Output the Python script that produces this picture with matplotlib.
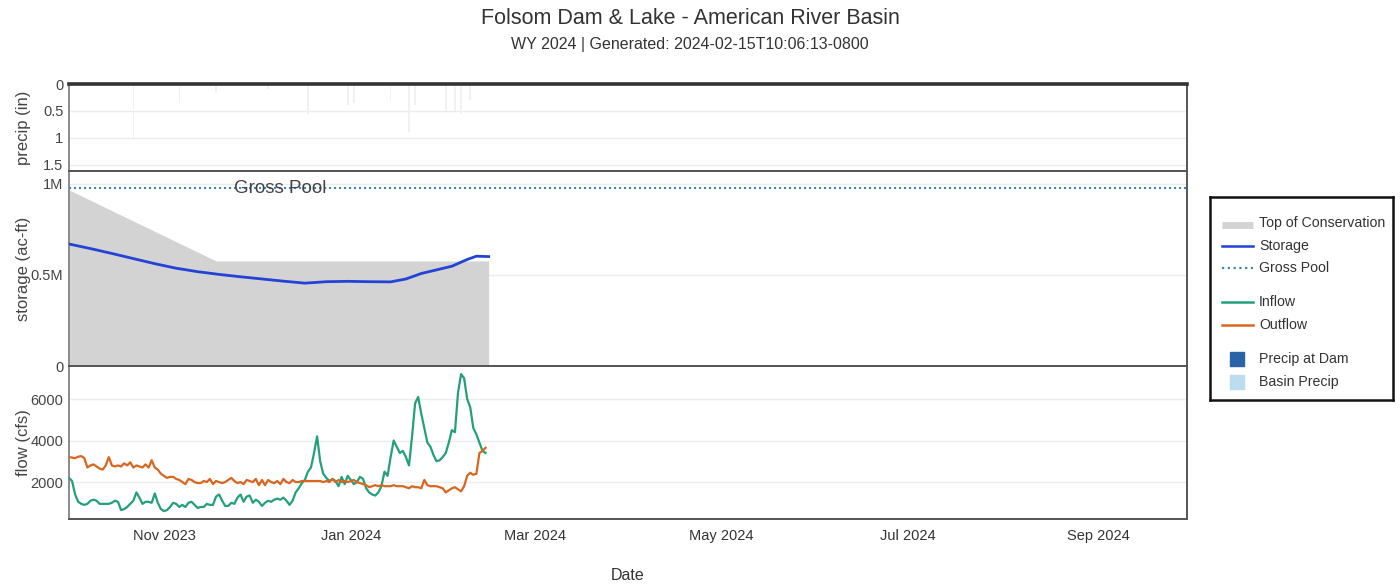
import matplotlib
matplotlib.use("Agg")
import matplotlib.pyplot as plt
import matplotlib.dates as mdates
from matplotlib.lines import Line2D
import numpy as np
import pandas as pd

plt.rcParams['font.family'] = ['Liberation Sans', 'DejaVu Sans']

# ---------------- data ----------------
start_date = "2023-10-01"

inflow_cfs = [
    2200, 2050, 1400, 1050, 950, 900, 950, 1100, 1150, 1100,
    950, 950, 950, 950, 1000, 1100, 1050, 650, 700, 800,
    950, 1100, 1500, 1250, 950, 1050, 1050, 1000, 1450, 1000,
    700, 600, 650, 800, 1000, 950, 800, 900, 800, 1000,
    1050, 900, 750, 800, 800, 950, 900, 900, 1300, 1400,
    1100, 850, 850, 1000, 950, 1250, 1400, 1050, 1300, 1350,
    1000, 1150, 1050, 850, 1000, 1100, 1050, 1150, 1200, 1150,
    1250, 1100, 900, 1100, 1500, 1700, 1950, 2100, 2500, 2700,
    3400, 4200, 3000, 2400, 2200, 2050, 2150, 2050, 1800, 2250,
    1900, 2300, 2100, 1900, 2000, 2250, 2150, 1700, 1500, 1400,
    1350, 1500, 1800, 2500, 2300, 3200, 4000, 3700, 3400, 3500,
    3200, 2800, 4200, 5800, 6100, 5300, 4600, 3900, 3700, 3300,
    3000, 3050, 3200, 3400, 3900, 4500, 4400, 6300, 7200, 7000,
    6000, 5600, 4600, 4300, 3900, 3500, 3400,
]

outflow_cfs = [
    3200, 3180, 3150, 3220, 3250, 3150, 2700, 2800, 2850, 2750,
    2650, 2600, 2800, 3200, 2800, 2750, 2800, 2750, 2900, 2800,
    2950, 2700, 2800, 2750, 2700, 2850, 2700, 3050, 2700, 2600,
    2400, 2300, 2200, 2250, 2250, 2150, 2100, 2000, 1900, 2150,
    2100, 2000, 1950, 1950, 2050, 2000, 2150, 1900, 2050, 2000,
    1950, 2000, 2100, 2200, 2050, 1950, 2000, 1900, 2100, 2050,
    2000, 2150, 1850, 2100, 1850, 2100, 2000, 1950, 2050, 1900,
    2150, 2000, 1950, 2100, 2000, 2000, 2050, 2050, 2050, 2050,
    2050, 2050, 2050, 2000, 2050, 2000, 2150, 2000, 2100, 2000,
    2050, 2000, 2050, 2100, 2000, 1950, 1900, 1850, 1750, 1800,
    1850, 1800, 1850, 1800, 1800, 1800, 1850, 1800, 1800, 1800,
    1750, 1700, 1800, 1750, 1750, 1700, 2100, 1850, 1800, 1800,
    1800, 1750, 1700, 1500, 1600, 1700, 1750, 1650, 1550, 1800,
    2300, 2450, 2350, 2400, 3400, 3500, 3650,
]

storage_dates = [
    "2023-10-01", "2023-10-08", "2023-10-15", "2023-10-22", "2023-10-29",
    "2023-11-05", "2023-11-12", "2023-11-19", "2023-11-26", "2023-12-03",
    "2023-12-10", "2023-12-17", "2023-12-24", "2023-12-31", "2024-01-07",
    "2024-01-14", "2024-01-19", "2024-01-24", "2024-01-29", "2024-02-03",
    "2024-02-08", "2024-02-11", "2024-02-15",
]
storage_af = [
    670000, 645000, 618000, 590000, 562000,
    537000, 518000, 503000, 490000, 478000,
    466000, 455000, 463000, 465000, 463000,
    462000, 478000, 508000, 528000, 548000,
    585000, 603000, 601000,
]

toc_dates = ["2023-10-01", "2023-11-18", "2024-02-15"]
toc_af = [967000, 577000, 577000]

gross_pool_af = 975000

precip_dates = [
    "2023-10-22", "2023-11-06", "2023-11-18", "2023-12-05", "2023-12-18",
    "2023-12-31", "2024-01-02", "2024-01-14", "2024-01-20", "2024-01-22",
    "2024-02-01", "2024-02-04", "2024-02-06", "2024-02-09",
]
basin_precip_in = [1.0, 0.35, 0.15, 0.1, 0.55, 0.4, 0.35, 0.3, 0.9, 0.4,
                   0.5, 0.5, 0.55, 0.3]

title = "Folsom Dam & Lake - American River Basin"
subtitle = "WY 2024 | Generated: 2024-02-15T10:06:13-0800"

# ---------------- styles ----------------
C_STORAGE = "#2342d6"
C_INFLOW = "#23a07a"
C_OUTFLOW = "#d9661e"
C_GROSS = "#3d86b8"
C_TOC = "#d3d3d3"
C_DAM = "#2a64a6"
C_BASIN = "#bcdcef"
C_TEXT = "#444444"
C_GRID = "#ececec"
C_SPINE = "#555555"

flow_dates = pd.date_range(start_date, periods=len(inflow_cfs), freq="D")
sto_dates = pd.to_datetime(storage_dates)
toc_d = pd.to_datetime(toc_dates)
pr_dates = pd.to_datetime(precip_dates)

W, H = 1400, 587
fig = plt.figure(figsize=(W / 100, H / 100), dpi=100)


def ax_rect(x0, y0, x1, y1):
    return [x0 / W, 1 - y1 / H, (x1 - x0) / W, (y1 - y0) / H]


ax_p = fig.add_axes(ax_rect(69, 84, 1187, 171))
ax_s = fig.add_axes(ax_rect(69, 171, 1187, 366), sharex=ax_p)
ax_f = fig.add_axes(ax_rect(69, 366, 1187, 519), sharex=ax_p)

xmin = pd.Timestamp("2023-10-01")
xmax = pd.Timestamp("2024-09-30")

for ax in (ax_p, ax_s, ax_f):
    ax.set_xlim(xmin, xmax)
    for sp in ax.spines.values():
        sp.set_color(C_SPINE)
        sp.set_linewidth(1.4)
    ax.spines['left'].set_color("#8a8a8a")
    ax.tick_params(axis='both', length=0, labelsize=10.5, colors=C_TEXT, pad=4)
    ax.grid(axis='y', color=C_GRID, linewidth=1)
    ax.set_axisbelow(True)
    ax.yaxis.set_label_coords(-0.034, 0.5)

ax_p.spines['top'].set_linewidth(2.6)
ax_p.spines['top'].set_color("#333333")

# precipitation (inverted axis)
ax_p.bar(pr_dates, basin_precip_in, width=0.5, color="#f1f1f1", zorder=2)
ax_p.set_ylim(1.62, 0)
ax_p.set_yticks([0, 0.5, 1, 1.5])
ax_p.set_yticklabels(["0", "0.5", "1", "1.5"])
ax_p.set_ylabel("precip (in)", fontsize=12, color=C_TEXT)
ax_p.tick_params(axis='x', labelbottom=False)

# storage
ax_s.fill_between(toc_d, 0, toc_af, color=C_TOC, linewidth=0, zorder=1)
ax_s.plot(sto_dates, storage_af, color=C_STORAGE, linewidth=2.0, zorder=3)
ax_s.axhline(gross_pool_af, color=C_GROSS, linestyle=(0, (1, 1.4)), linewidth=1.5, zorder=3)
ax_s.text(pd.Timestamp("2023-12-09"), gross_pool_af, "Gross Pool", ha="center",
          va="center", fontsize=13.5, color=C_TEXT, zorder=4)
ax_s.set_ylim(0, 1071000)
ax_s.set_yticks([0, 500000, 1000000])
ax_s.set_yticklabels(["0", "0.5M", "1M"])
ax_s.set_ylabel("storage (ac-ft)", fontsize=12, color=C_TEXT)
ax_s.tick_params(axis='x', labelbottom=False)

# flow
ax_f.plot(flow_dates, inflow_cfs, color=C_INFLOW, linewidth=1.6, zorder=3)
ax_f.plot(flow_dates, outflow_cfs, color=C_OUTFLOW, linewidth=1.6, zorder=3)
ax_f.set_ylim(220, 7590)
ax_f.set_yticks([2000, 4000, 6000])
ax_f.set_ylabel("flow (cfs)", fontsize=12, color=C_TEXT)
ax_f.xaxis.set_major_locator(mdates.MonthLocator(bymonth=[11, 1, 3, 5, 7, 9]))
ax_f.xaxis.set_major_formatter(mdates.DateFormatter("%b %Y"))
ax_f.tick_params(axis='x', pad=7, labelsize=10.5, colors="#333333")

# titles and x-axis caption
fig.text(690 / W, 1 - 18 / H, title, ha="center", va="center", fontsize=15.5, color="#333333")
fig.text(690 / W, 1 - 45 / H, subtitle, ha="center", va="center", fontsize=11.5, color="#333333")
fig.text(628 / W, 1 - 576 / H, "Date", ha="center", va="center", fontsize=11.5, color="#333333")

# legend panel
lg = fig.add_axes(ax_rect(1210, 197, 1393, 400))
lg.set_xlim(0, 183)
lg.set_ylim(203, 0)
lg.set_xticks([])
lg.set_yticks([])
for sp in lg.spines.values():
    sp.set_color("#111111")
    sp.set_linewidth(1.8)

legend_items = [
    ("Top of Conservation", "band", C_TOC),
    ("Storage", "line", C_STORAGE),
    ("Gross Pool", "dots", C_GROSS),
    None,
    ("Inflow", "line", C_INFLOW),
    ("Outflow", "line", C_OUTFLOW),
    None,
    ("Precip at Dam", "square", C_DAM),
    ("Basin Precip", "square", C_BASIN),
]
row_y = 26
for item in legend_items:
    if item is None:
        row_y += 11.5
        continue
    label, kind, color = item
    if kind == "band":
        lg.add_line(Line2D([12, 43], [row_y + 2, row_y + 2], color=color, linewidth=5,
                           solid_capstyle="butt"))
    elif kind == "line":
        lg.add_line(Line2D([12, 43], [row_y, row_y], color=color, linewidth=1.8))
    elif kind == "dots":
        lg.add_line(Line2D([12, 43], [row_y, row_y], color=color, linewidth=1.6,
                           linestyle=(0, (1, 1.6))))
    elif kind == "square":
        lg.add_line(Line2D([27], [row_y], color=color, marker="s", markersize=10,
                           linestyle="none"))
    lg.text(49, row_y, label, va="center", ha="left", fontsize=10.2, color="#333333")
    row_y += 22.6

fig.savefig("out.png", dpi=100)
